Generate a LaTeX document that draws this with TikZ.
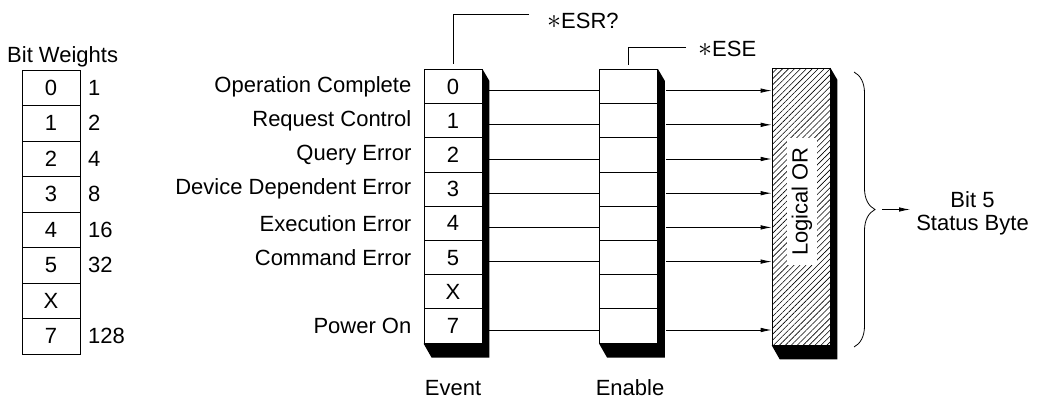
\documentclass[tikz,border=0pt]{standalone}
\usepackage{fontspec}
\setmainfont{Liberation Sans}
\usepackage{tikz}
\usetikzlibrary{arrows.meta, patterns.meta, decorations.pathreplacing}

\tikzset{
  cell/.style={draw, line width=0.9pt, minimum width=58pt, minimum height=34.2pt, inner sep=0pt},
  wire/.style={line width=0.8pt},
  feed/.style={wire, -{Latex[length=11pt, width=4.5pt]}},
}
% dark 3-D edge on the right and bottom of a register
\newcommand{\regshadow}[2]{%
  \fill (#1.north east) -- ++(7pt,-12pt) -- ([shift={(7pt,-14pt)}]#2.south east)
    -- ([shift={(8pt,-14pt)}]#2.south west) -- (#2.south west) -- (#2.south east) -- cycle;}
\newcommand{\bigast}{\scalebox{1.35}{$\ast$}}

\begin{document}
\begin{tikzpicture}[x=1pt, y=-1pt, font=\fontsize{22}{23}\selectfont, every node/.style={inner sep=2pt}]
  \useasboundingbox (0,0) rectangle (1045,400);
  \node[anchor=west] (bw) at (5,57) {Bit Weights};
  \foreach \b/\w [count=\i from 0] in {0/1, 1/2, 2/4, 3/8, 4/16, 5/32, X/, 7/128} {
    \node[cell, minimum height=35.5pt] (wt\i) at (51,87.75+35.5*\i) {\b};
    \node[anchor=west] (wv\i) at (86,87.75+35.5*\i) {\w};
  }
  \foreach \b/\t [count=\i from 0] in {0/Operation Complete, 1/Request Control, 2/Query Error,
      3/Device Dependent Error, 4/Execution Error, 5/Command Error, X/, 7/Power On} {
    \node[cell] (ev\i) at (453,86.6+34.2*\i) {\b};
    \node[cell] (en\i) at (628.5,86.6+34.2*\i) {};
    \node[anchor=east] (lb\i) at ([xshift=-10pt]ev\i.west) {\t};
  }
  \regshadow{ev0}{ev7}
  \regshadow{en0}{en7}
  \node[draw, line width=0.9pt, minimum width=58pt, minimum height=277pt,
        pattern={Lines[angle=45, distance=4.2pt, line width=0.6pt]}] (orbox) at (801,206.5) {};
  \node[fill=white, rotate=90, minimum width=127pt, minimum height=30pt] (orlbl) at (802,201.5) {Logical OR};
  \regshadow{orbox}{orbox}
  \foreach \i in {0,...,5,7} {
    \coordinate (a\i) at ([yshift=-4pt]ev\i.east);
    \coordinate (b\i) at ([yshift=-4pt]en\i.east);
    \draw[wire] ([xshift=7pt]a\i) -- (a\i -| en\i.west);
    \draw[feed] ([xshift=8pt]b\i) -- (b\i -| orbox.west);
  }
  \node[anchor=west] (esr) at (545,21) {\bigast ESR?};
  \draw[wire] ([shift={(-16pt,7pt)}]esr.west) -| ([yshift=5pt]ev0.north);
  \node[anchor=west] (ese) at (696,49) {\bigast ESE};
  \draw[wire] ([shift={(-10pt,2pt)}]ese.west) -| ([yshift=4pt]en0.north);
  \draw[wire, decorate, decoration={brace, amplitude=21pt}] (854,72) -- (854,347);
  \coordinate (tip) at (875,209.5);
  \node[align=center, inner sep=6pt] (sb) at (972.5,213.5) {Bit 5\\Status Byte};
  \draw[feed] ([xshift=7pt]tip) -- (sb.west |- tip);
  \node (evlbl) at (ev7 |- 0,388) {Event};
  \node (enlbl) at (630,388) {Enable};
\end{tikzpicture}
\end{document}
